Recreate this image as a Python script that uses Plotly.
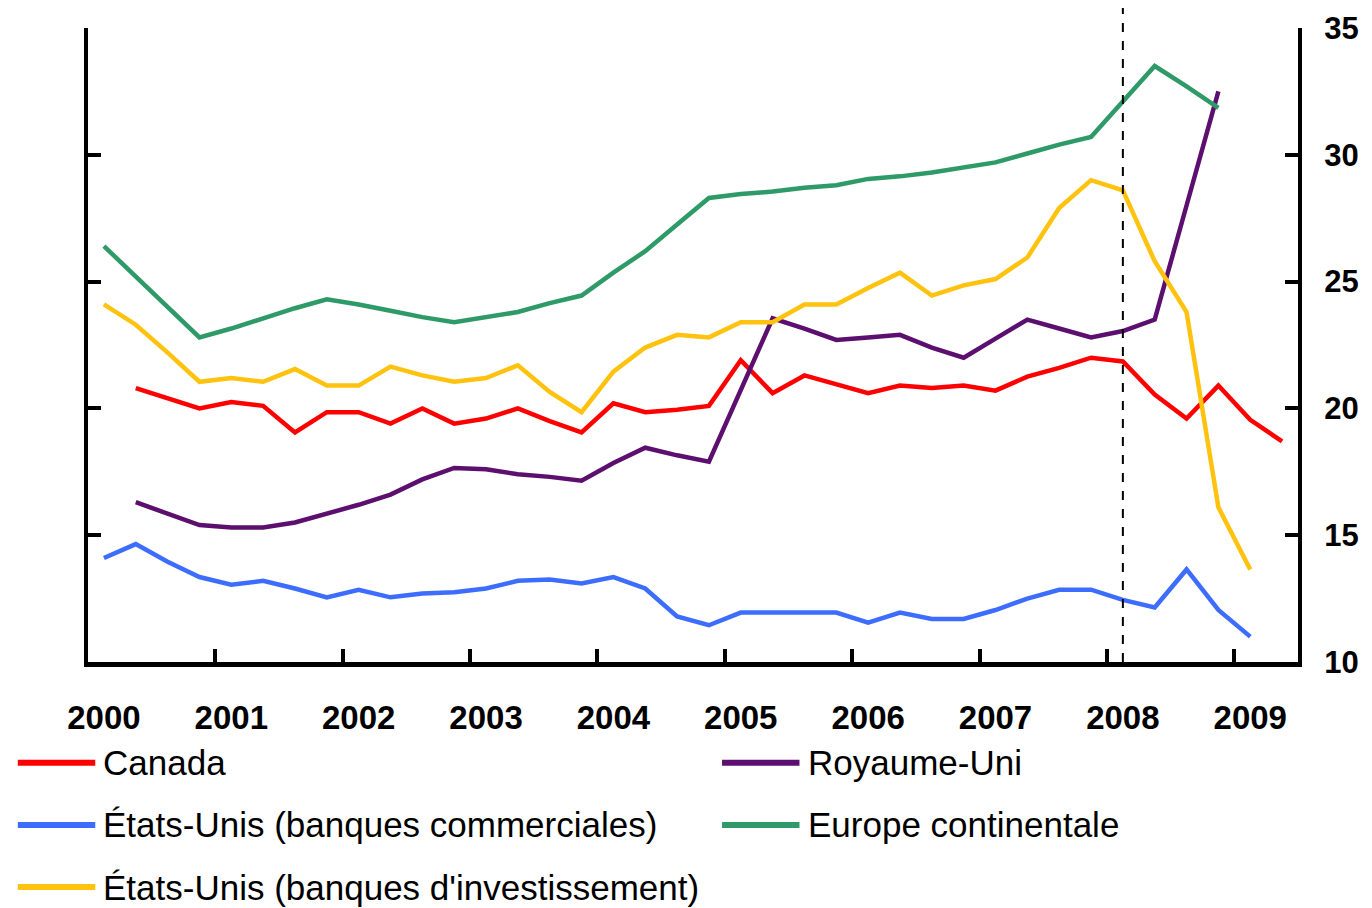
import plotly.graph_objects as go

# quarterly observations, 2000T1 .. 2009T2
years = list(range(2000, 2010))
year_labels = [str(y) for y in years]

canada = [None, 20.8, 20.4, 20.0, 20.25, 20.1, 19.05, 19.85, 19.85, 19.4, 20.0, 19.4, 19.6, 20.0, 19.5, 19.05,
          20.2, 19.85, 19.95, 20.1, 21.9, 20.6, 21.3, 20.95, 20.6, 20.9, 20.8, 20.9, 20.7, 21.25, 21.6, 22.0,
          21.85, 20.55, 19.6, 20.9, 19.55, 18.7]
royaume_uni = [None, 16.3, 15.85, 15.4, 15.3, 15.3, 15.5, 15.85, 16.2, 16.6, 17.2, 17.65, 17.6, 17.4, 17.3, 17.15,
               17.85, 18.45, 18.15, 17.9, 20.7, 23.55, 23.15, 22.7, 22.8, 22.9, 22.4, 22.0, 22.75, 23.5, 23.15, 22.8,
               23.05, 23.5, 28.0, 32.5, None, None]
us_commerciales = [14.1, 14.65, 13.95, 13.35, 13.05, 13.2, 12.9, 12.55, 12.85, 12.55, 12.7, 12.75, 12.9, 13.2, 13.25,
                   13.1, 13.35, 12.9, 11.8, 11.45, 11.95, 11.95, 11.95, 11.95, 11.55, 11.95, 11.7, 11.7, 12.05, 12.5,
                   12.85, 12.85, 12.45, 12.15, 13.65, 12.05, 11.0, None]
europe = [26.4, 25.2, 24.0, 22.8, 23.15, 23.55, 23.95, 24.3, 24.1, 23.85, 23.6, 23.4, 23.6, 23.8, 24.15, 24.45,
          25.35, 26.2, 27.25, 28.3, 28.45, 28.55, 28.7, 28.8, 29.05, 29.15, 29.3, 29.5, 29.7, 30.05, 30.4, 30.7,
          32.1, 33.5, 32.7, 31.85, None, None]
us_investissement = [24.1, 23.3, 22.2, 21.05, 21.2, 21.05, 21.55, 20.9, 20.9, 21.65, 21.3, 21.05, 21.2, 21.7, 20.65,
                     19.85, 21.45, 22.4, 22.9, 22.8, 23.4, 23.4, 24.1, 24.1, 24.75, 25.35, 24.45, 24.85, 25.1, 25.95,
                     27.9, 29.0, 28.6, 25.8, 23.8, 16.1, 13.65, None]

crisis_quarter = 2008.125

series = [
    ("Canada", canada, "#ff0000"),
    ("Royaume-Uni", royaume_uni, "#5c0f6e"),
    ("États-Unis (banques commerciales)", us_commerciales, "#3d6dff"),
    ("Europe continentale", europe, "#2e9a68"),
    ("États-Unis (banques d'investissement)", us_investissement, "#ffc20e"),
]

# mid-quarter positions
x = [y + 0.125 + 0.25 * q for y in years for q in range(4)][:len(canada)]

FONT = "Arial, Liberation Sans, sans-serif"

fig = go.Figure()
for name, values, color in series:
    fig.add_trace(go.Scatter(x=x, y=values, name=name, mode="lines",
                             line=dict(color=color, width=4.5), showlegend=False))

# dashed vertical marker
fig.add_shape(type="line", xref="x", yref="paper", x0=crisis_quarter, x1=crisis_quarter, y0=0, y1=1.04,
              line=dict(color="black", width=2, dash="dash"))

# legend drawn by hand: long thick line samples, two columns
rows = [-0.159, -0.159, -0.257, -0.257, -0.355]
cols = [(-0.058, 0.006, 0.011), (0.524, 0.588, 0.593), (-0.058, 0.006, 0.011), (0.524, 0.588, 0.593),
        (-0.058, 0.006, 0.011)]
for (name, values, color), ry, (lx0, lx1, tx) in zip(series, rows, cols):
    fig.add_shape(type="line", xref="paper", yref="paper", x0=lx0, x1=lx1, y0=ry, y1=ry,
                  line=dict(color=color, width=6))
    fig.add_annotation(text=name, xref="paper", yref="paper", x=tx, y=ry, xanchor="left", yanchor="middle",
                       showarrow=False, font=dict(family=FONT, size=35, color="black"))

fig.update_xaxes(
    range=[2000, 2009.5], automargin=False,
    tickvals=[y + 0.125 for y in years], ticktext=year_labels, ticks="",
    ticklabelstandoff=22,
    tickfont=dict(family=FONT, size=33, color="black", weight="bold"),
    showline=True, linecolor="black", linewidth=5, showgrid=False, zeroline=False,
    minor=dict(tickvals=years[1:], ticks="inside", ticklen=13, tickwidth=4, tickcolor="black", showgrid=False),
)
fig.update_yaxes(
    range=[10, 35], tickvals=[10, 15, 20, 25, 30, 35], side="right", automargin=False,
    ticks="inside", ticklen=13, tickwidth=4, tickcolor="black",
    ticklabelstandoff=16,
    tickfont=dict(family=FONT, size=31, color="black", weight="bold"),
    showline=True, linecolor="black", linewidth=4, mirror="ticks", showgrid=False, zeroline=False,
)
# page body adds an 8px margin, so the figure is sized to fit the rest of the window
fig.update_layout(
    width=1364, height=900,
    margin=dict(l=80, r=74, t=20, b=246),
    plot_bgcolor="white", paper_bgcolor="white",
    showlegend=False,
)

fig.write_html("out.html")
